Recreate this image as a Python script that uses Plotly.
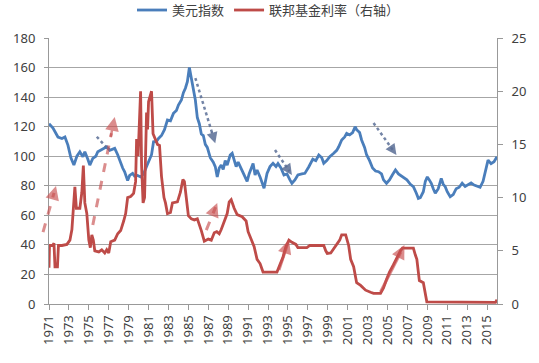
import plotly.graph_objects as go

# ---------------- data ----------------
dxy_year = [1971.0, 1971.4, 1971.9, 1972.3, 1972.6, 1972.9, 1973.2, 1973.5, 1973.8, 1974.1,
            1974.4, 1974.6, 1974.9, 1975.1, 1975.4, 1975.7, 1975.9, 1976.2, 1976.5, 1976.8,
            1977.1, 1977.4, 1977.6, 1977.9, 1978.1, 1978.4, 1978.6, 1978.9, 1979.1, 1979.4,
            1979.6, 1979.9, 1980.2, 1980.5, 1980.8, 1981.0, 1981.3, 1981.5, 1981.8, 1982.0,
            1982.3, 1982.6, 1982.9, 1983.2, 1983.5, 1983.8, 1984.0, 1984.3, 1984.5, 1984.7,
            1984.9, 1985.1, 1985.3, 1985.5, 1985.7, 1985.9, 1986.1, 1986.3, 1986.5, 1986.7,
            1986.9, 1987.2, 1987.5, 1987.7, 1987.9, 1988.1, 1988.3, 1988.5, 1988.7, 1988.9,
            1989.2, 1989.4, 1989.6, 1989.8, 1990.0, 1990.2, 1990.5, 1990.9, 1991.1, 1991.5,
            1991.7, 1991.9, 1992.2, 1992.6, 1992.9, 1993.2, 1993.5, 1993.8, 1994.0, 1994.3,
            1994.6, 1994.9, 1995.2, 1995.4, 1995.7, 1996.0, 1996.4, 1996.7, 1997.1, 1997.5,
            1997.8, 1998.1, 1998.4, 1998.6, 1998.9, 1999.2, 1999.6, 1999.9, 2000.1, 2000.4,
            2000.7, 2000.9, 2001.2, 2001.5, 2001.75, 2001.9, 2002.2, 2002.4, 2002.7, 2002.9,
            2003.2, 2003.5, 2003.8, 2004.1, 2004.4, 2004.6, 2004.9, 2005.2, 2005.5, 2005.8,
            2006.1, 2006.4, 2006.7, 2006.95, 2007.3, 2007.6, 2007.9, 2008.1, 2008.3, 2008.6,
            2008.8, 2009.0, 2009.2, 2009.4, 2009.6, 2009.8, 2010.1, 2010.4, 2010.6, 2010.8,
            2011.0, 2011.3, 2011.6, 2011.9, 2012.2, 2012.5, 2012.8, 2013.1, 2013.4, 2013.7,
            2014.0, 2014.3, 2014.6, 2014.8, 2015.1, 2015.4, 2015.7, 2016.0]
dxy_value = [122, 119, 113, 112, 113, 107.5, 99, 94, 100, 103,
             99.7, 103, 98, 94, 98.5, 100, 103, 104, 105.3, 106.4,
             104, 104.5, 105.3, 101, 97, 92, 89.5, 83.5, 87, 88.4,
             86.5, 87, 86, 88, 93, 96, 101, 109.8, 110, 112,
             114, 118, 124.5, 124, 129, 131, 134.6, 138, 143, 146,
             150.5, 160, 152, 146, 138, 126, 122, 115, 114, 108,
             106, 99, 96, 93, 86, 92, 94, 91, 97, 94,
             100.8, 102, 97, 93, 96, 93, 89, 83, 88, 95,
             87.3, 90.7, 86, 78.3, 88.4, 93, 95.2, 93, 95, 92,
             87.3, 88, 84, 81.7, 84, 87.3, 88, 88.4, 92.9, 98,
             97, 100.8, 99, 95.2, 97, 99.7, 102, 104, 106.4, 111,
             113, 115.5, 114.4, 116, 120, 118, 116, 111, 106, 101,
             97, 92, 90, 89.5, 88, 84, 81.7, 84, 87.5, 90.7,
             88, 86.5, 85, 84, 81, 79.4, 75, 71.5, 72, 76,
             83, 86, 84, 81.7, 78, 74.9, 78, 85, 81, 79.4,
             76, 72.6, 74, 78, 79, 81.7, 79.5, 80.5, 82, 80.5,
             80, 79, 83, 88.4, 97.4, 95, 96.3, 99.7]

ffr_year = [1971.0, 1971.05, 1971.35, 1971.5, 1971.6, 1971.85, 1971.95, 1972.3, 1972.8, 1973.1,
            1973.3, 1973.45, 1973.6, 1973.75, 1974.1, 1974.3, 1974.45, 1974.6, 1974.8, 1975.0,
            1975.15, 1975.3, 1975.45, 1975.6, 1976.0, 1976.3, 1976.6, 1976.8, 1977.0, 1977.2,
            1977.6, 1977.9, 1978.2, 1978.5, 1978.7, 1978.9, 1979.2, 1979.5, 1979.7, 1979.8,
            1979.95, 1980.2, 1980.3, 1980.45, 1980.6, 1980.8, 1980.9, 1981.0, 1981.3, 1981.45,
            1981.6, 1981.9, 1982.1, 1982.3, 1982.55, 1982.7, 1982.9, 1983.2, 1983.4, 1983.9,
            1984.2, 1984.45, 1984.6, 1984.8, 1985.0, 1985.3, 1985.6, 1985.9, 1986.1, 1986.3,
            1986.6, 1987.0, 1987.3, 1987.6, 1987.85, 1988.1, 1988.3, 1988.6, 1988.9, 1989.1,
            1989.3, 1989.6, 1989.9, 1990.4, 1990.8, 1991.0, 1991.3, 1991.6, 1991.9, 1992.2,
            1992.5, 1993.0, 1993.9, 1994.2, 1994.5, 1994.8, 1995.1, 1995.4, 1995.8, 1996.0,
            1996.9, 1997.2, 1998.6, 1998.8, 1998.95, 1999.3, 1999.6, 1999.9, 2000.2, 2000.4,
            2000.8, 2001.1, 2001.3, 2001.6, 2001.9, 2002.3, 2002.8, 2003.3, 2003.6, 2004.3,
            2004.6, 2004.9, 2005.2, 2005.6, 2005.9, 2006.3, 2006.5, 2007.6, 2007.8, 2007.95,
            2008.1, 2008.2, 2008.6, 2008.8, 2008.95, 2015.85, 2016.0]
ffr_value = [3.4, 5.5, 5.5, 5.7, 3.5, 3.5, 5.5, 5.5, 5.6, 6.0,
             7.0, 8.8, 11.0, 9.0, 9.0, 10.5, 13.0, 9.5, 8.5, 6.0,
             5.3, 6.5, 6.0, 5.0, 4.9, 5.1, 4.8, 5.1, 4.8, 5.85,
             6.0, 6.6, 6.9, 7.8, 8.5, 10.0, 10.1, 10.4, 11.5, 15.5,
             13.9, 20.0, 13.0, 9.5, 10.0, 18.0, 16.4, 19.0, 20.0, 16.0,
             15.6, 15.0, 14.9, 12.0, 10.0, 9.5, 8.5, 8.6, 9.5, 9.6,
             10.5, 11.7, 11.5, 9.8, 8.3, 8.0, 7.9, 8.0, 7.5, 6.9,
             5.9, 6.1, 6.0, 6.7, 6.8, 6.6, 7.0, 7.8, 8.5, 9.6,
             9.8, 9.0, 8.4, 8.2, 7.8, 6.8, 6.0, 5.4, 4.2, 3.8,
             3.0, 3.0, 3.0, 3.7, 4.4, 5.4, 6.0, 5.8, 5.6, 5.3,
             5.3, 5.5, 5.5, 5.0, 4.75, 4.8, 5.2, 5.5, 6.0, 6.5,
             6.5, 5.5, 4.2, 3.5, 2.0, 1.75, 1.3, 1.1, 1.0, 1.0,
             1.5, 2.3, 3.0, 3.7, 4.3, 5.0, 5.25, 5.25, 4.6, 4.2,
             3.0, 2.2, 2.0, 1.0, 0.2, 0.15, 0.4]

year_ticks = list(range(1971, 2016, 2))
left_ticks = list(range(0, 181, 20))
right_ticks = list(range(0, 26, 5))

# trend arrows (tail year, tail value, head year, head value) on the left-axis scale
blue_arrows = [(1975.8, 113.2, 1976.9, 104.9),
               (1985.7, 152.9, 1987.7, 108.7),
               (1993.7, 104.2, 1995.4, 87.3),
               (2003.6, 122.5, 2005.9, 100.8)]
red_arrows = [(1970.4, 48.7, 1971.7, 79.8, "dash"),
              (1975.4, 53.5, 1977.6, 126.5, "dash"),
              (1986.8, 50.0, 1987.9, 68.3, "dash"),
              (1994.1, 23.0, 1995.1, 43.3, "solid"),
              (2004.3, 8.1, 2006.7, 39.9, "solid")]

X_RANGE = [1971, 2016]
Y_RANGE = [0, 180]

# ---------------- styles ----------------
BLUE = "#4A7EBB"
RED = "#BE4B48"
GRID = "#A6A6A6"
TEXT = "#404040"
FONT = "Noto Sans, Noto Sans CJK SC, sans-serif"
BLUE_ARROW = "rgba(90,110,150,0.85)"
RED_ARROW = "rgba(200,80,80,0.65)"


def to_paper(xv, yv):
    # map axis values to paper fractions so the arrow lines are not clipped at the axes
    return ((xv - X_RANGE[0]) / (X_RANGE[1] - X_RANGE[0]),
            (yv - Y_RANGE[0]) / (Y_RANGE[1] - Y_RANGE[0]))


fig = go.Figure()
fig.add_trace(go.Scatter(x=dxy_year, y=dxy_value, name="美元指数", mode="lines",
                         line=dict(color=BLUE, width=2.8)))
fig.add_trace(go.Scatter(x=ffr_year, y=ffr_value, name="联邦基金利率（右轴）", mode="lines",
                         line=dict(color=RED, width=2.8), yaxis="y2"))

annotations = []
shapes = []
arrow_specs = [(a[0], a[1], a[2], a[3], "dot", BLUE_ARROW, 2.5, 2) for a in blue_arrows] + \
              [(a[0], a[1], a[2], a[3], a[4], RED_ARROW, 3, 2.5) for a in red_arrows]
for (x0, y0, x1, y1, dash, col, lw, aw) in arrow_specs:
    xe, ye = x0 + (x1 - x0) * 0.85, y0 + (y1 - y0) * 0.85
    p0 = to_paper(x0, y0)
    p1 = to_paper(xe, ye)
    shapes.append(dict(type="line", xref="paper", yref="paper", x0=p0[0], y0=p0[1],
                       x1=p1[0], y1=p1[1], line=dict(color=col, width=lw, dash=dash),
                       layer="above"))
    annotations.append(dict(x=x1, y=y1, xref="x", yref="y",
                            ax=x0 + (x1 - x0) * 0.8, ay=y0 + (y1 - y0) * 0.8,
                            axref="x", ayref="y", showarrow=True, arrowhead=2,
                            arrowsize=1.1, arrowwidth=aw, arrowcolor=col, text=""))

fig.update_layout(
    width=539, height=363,
    margin=dict(l=49, r=42, t=38, b=59, autoexpand=False),
    plot_bgcolor="white", paper_bgcolor="white",
    font=dict(family=FONT, size=13, color=TEXT),
    showlegend=True,
    legend=dict(orientation="h", x=0.49, xanchor="center", y=1.105, yanchor="middle",
                font=dict(family="Noto Sans CJK SC, sans-serif", size=13, color=TEXT),
                itemwidth=30, bgcolor="rgba(0,0,0,0)"),
    xaxis=dict(range=X_RANGE, tickmode="array", tickvals=year_ticks,
               ticktext=[str(y) for y in year_ticks], tickangle=-90,
               showgrid=False, zeroline=False, showline=True, linecolor="#999999",
               ticks="outside", ticklen=5, tickcolor="#999999", automargin=False,
               tickfont=dict(size=13, color=TEXT)),
    yaxis=dict(range=Y_RANGE, tickmode="array", tickvals=left_ticks,
               showgrid=True, gridcolor=GRID, gridwidth=1, zeroline=False,
               showline=True, linecolor="#999999", ticks="outside", ticklen=4,
               tickcolor="#999999", automargin=False, ticklabelstandoff=6,
               tickfont=dict(size=13, color=TEXT)),
    yaxis2=dict(range=[0, 25], tickmode="array", tickvals=right_ticks, overlaying="y",
                side="right", showgrid=False, zeroline=False, showline=True,
                linecolor="#999999", ticks="outside", ticklen=5, tickcolor="#999999",
                automargin=False, ticklabelstandoff=6,
                tickfont=dict(size=13, color=TEXT)),
    shapes=shapes,
    annotations=annotations,
)

fig.write_html("out.html", config={"displayModeBar": False},
               post_script="document.body.style.margin='0';document.body.style.overflow='hidden';")
